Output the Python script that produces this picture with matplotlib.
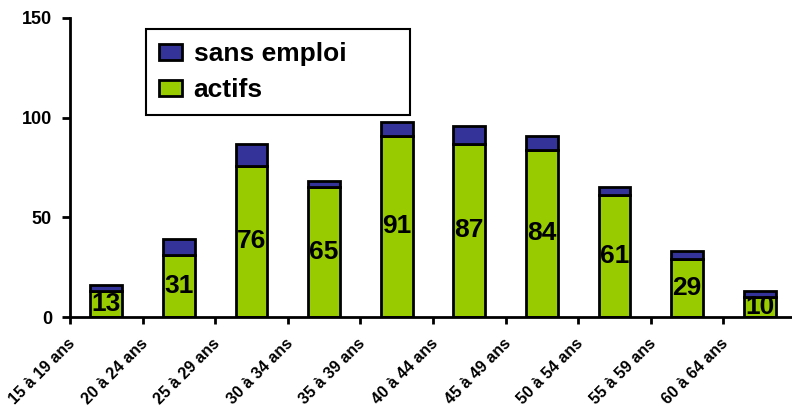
import matplotlib
matplotlib.use('Agg')
import matplotlib.pyplot as plt
import matplotlib.transforms as mtransforms
import numpy as np

plt.rcParams['font.family'] = ['Liberation Sans', 'DejaVu Sans']
plt.rcParams['font.weight'] = 'bold'

categories = ['15 à 19 ans', '20 à 24 ans', '25 à 29 ans', '30 à 34 ans', '35 à 39 ans',
              '40 à 44 ans', '45 à 49 ans', '50 à 54 ans', '55 à 59 ans', '60 à 64 ans']
actifs = [13, 31, 76, 65, 91, 87, 84, 61, 29, 10]
sans_emploi = [3, 8, 11, 3, 7, 9, 7, 4, 4, 3]

fig = plt.figure(figsize=(7.92, 4.07), dpi=100)
ax = fig.add_axes([70 / 792, 90 / 407, 10 * 72.6 / 792, 299 / 407])

x = np.arange(len(categories))
w = 0.44
b1 = ax.bar(x, actifs, w, color='#99CC00', edgecolor='black', linewidth=2, label='actifs')
b2 = ax.bar(x, sans_emploi, w, bottom=actifs, color='#333399', edgecolor='black',
            linewidth=2, label='sans emploi')

for xi, v in zip(x, actifs):
    ax.text(xi, v / 2, str(v), ha='center', va='center', fontsize=19, fontweight='bold')

ax.set_xlim(-0.5, len(categories) - 0.5)
ax.set_ylim(0, 150)
ax.set_yticks([0, 50, 100, 150])
ax.set_xticks(x - 0.5)
ax.set_xticklabels(categories, rotation=45, ha='right', fontsize=11.5, fontweight='bold')
ax.tick_params(axis='y', labelsize=13, width=2, length=6, direction='out', pad=7)
ax.tick_params(axis='x', width=2, length=5, direction='out', pad=4)
for lab in ax.get_yticklabels():
    lab.set_fontweight('bold')
shift = mtransforms.ScaledTranslation(8 / 100, -6 / 100, fig.dpi_scale_trans)
for lab in ax.get_xticklabels():
    lab.set_transform(lab.get_transform() + shift)

for s in ['top', 'right']:
    ax.spines[s].set_visible(False)
for s in ['left', 'bottom']:
    ax.spines[s].set_linewidth(2)

leg = ax.legend(handles=[b2, b1], labels=['sans emploi', 'actifs'],
                loc='upper left', bbox_to_anchor=(146 / 792, 1 - 116 / 407, 264 / 792, 87 / 407),
                bbox_transform=fig.transFigure, borderaxespad=0, fancybox=False, mode='expand',
                edgecolor='black', framealpha=1, prop={'size': 19, 'weight': 'bold'},
                handlelength=0.85, handleheight=0.55, handletextpad=0.45,
                labelspacing=0.45, borderpad=0.5)
leg.get_frame().set_linewidth(1.5)

fig.savefig('out.png', dpi=100)
